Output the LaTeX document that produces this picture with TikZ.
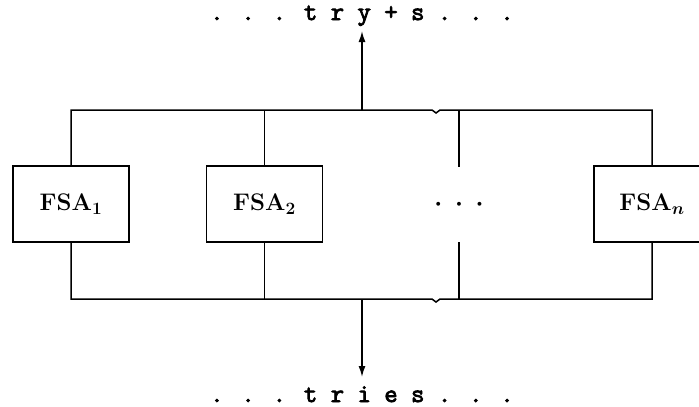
\documentclass[tikz,border=0pt]{standalone}
\usepackage{fontspec}
\newfontfamily\tapefont{Latin Modern Mono}[FakeBold=3]
\usetikzlibrary{arrows.meta,positioning,calc}

\begin{document}
\begin{tikzpicture}[x=1pt, y=-1pt,
    fsa/.style={rectangle, draw=black, line width=1.5pt,
                minimum width=116pt, minimum height=76pt,
                font=\fontsize{24}{28}\selectfont\bfseries\boldmath},
    tape/.style={font=\fontsize{26}{30}\selectfont\tapefont,
                 inner sep=0pt},
    wire/.style={line width=1.5pt},
    arr/.style={-{Latex[length=11pt, width=7pt]}, wire},
]
\useasboundingbox (0,0) rectangle (699,407);
\clip (0,0) rectangle (699,407);

% parallel machines
\node[fsa] (fsa1) at (71,204) {FSA$_1$};
\node[fsa] (fsa2) at (264.5,204) {FSA$_2$};
\node[fsa] (fsan) at (652,204) {FSA$_n$};
\node[inner sep=0pt, minimum height=75pt, font=\fontsize{24}{28}\selectfont\boldmath]
    (gap) at (459,204.5) {$\cdotp\;\cdotp\;\cdotp$};

% tapes
\node[tape, anchor=base] (try) at (362,20) {. . . t r y + s . . .};
\node[tape, anchor=base] (tries) at (362,402) {. . . t r i e s . . .};

% buses
\coordinate (topbus) at (0,110);
\coordinate (botbus) at (0,299);
\coordinate (tkink) at (436,113);
\coordinate (bkink) at (436,302);

\draw[wire] (fsa1.north) |- ($(tkink)+(-4,-3)$) -- (tkink) -- ($(tkink)+(4,-3)$) -| (fsan.north);
\draw[wire] (fsa1.south) |- ($(bkink)+(-4,-3)$) -- (bkink) -- ($(bkink)+(4,-3)$) -| (fsan.south);
\draw[wire] (fsa2.north) -- (fsa2.north |- topbus);
\draw[wire] (fsa2.south) -- (fsa2.south |- botbus);
\draw[wire] (gap.north) -- (gap.north |- topbus);
\draw[wire] (gap.south) -- (gap.south |- botbus);

\draw[arr] (try.base |- topbus) -- ([yshift=-11pt]try.base);
\draw[arr] (tries.base |- botbus) -- ([yshift=25pt]tries.base);

\end{tikzpicture}
\end{document}
